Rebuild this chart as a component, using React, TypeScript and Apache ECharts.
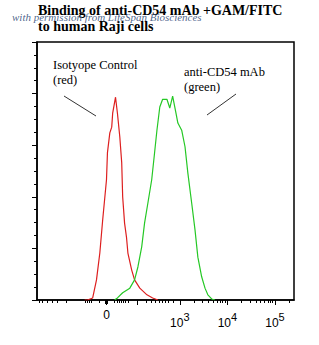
import React, { useEffect, useRef } from "react";
import * as echarts from "echarts";

// x values are in display (biexponential) decade units; y in relative count units
const redX = [1.0, 1.06, 1.17, 1.25, 1.32, 1.38, 1.46, 1.48, 1.53, 1.57, 1.59, 1.65, 1.69, 1.74, 1.78, 1.8, 1.84, 1.88, 1.91, 1.99, 2.05, 2.16, 2.31, 2.43, 2.54];
const redY = [0, 0, 0.04, 0.39, 0.91, 1.55, 2.33, 2.85, 3.24, 3.35, 3.62, 3.93, 3.62, 3.16, 2.66, 2.0, 1.49, 1.22, 0.91, 0.58, 0.39, 0.23, 0.1, 0.04, 0];
const greenX = [1.63, 1.69, 1.8, 1.95, 2.05, 2.12, 2.2, 2.26, 2.33, 2.41, 2.47, 2.52, 2.58, 2.64, 2.73, 2.79, 2.85, 2.92, 2.96, 3.04, 3.11, 3.17, 3.25, 3.32, 3.38, 3.46, 3.53, 3.59, 3.67, 3.74];
const greenY = [0, 0.04, 0.14, 0.23, 0.39, 0.64, 1.03, 1.49, 1.88, 2.33, 2.85, 3.29, 3.74, 3.89, 3.89, 3.72, 3.95, 3.62, 3.43, 3.29, 2.97, 2.46, 1.88, 1.36, 0.83, 0.45, 0.23, 0.1, 0.02, 0];

const xLabelPos = [1.46, 3, 4, 5];
const xLabelExp = ["", "3", "4", "5"];
const xMajorTicks = [1.46, 2.1, 3, 4, 5];
const xMinorTicks = [0.05, 0.12, 0.22, 0.33, 0.43, 0.61, 1.02, 1.05, 1.09, 1.14, 1.31,
  1.63, 1.68, 1.72, 1.76, 1.81, 1.86, 1.91,
  2.3, 2.4, 2.49, 2.56, 2.63, 2.69, 2.75, 2.86,
  3.3, 3.48, 3.6, 3.7, 3.78, 3.85, 3.9, 3.95,
  4.3, 4.48, 4.6, 4.7, 4.78, 4.85, 4.9, 4.95, 5.3];
const zeroMarker = [1.46];

const titleLines = ["Binding of anti-CD54 mAb +GAM/FITC", "to human Raji cells"];
const watermark = "with permission from LifeSpan Biosciences";
const redLabel = ["Isotyope Control", "(red)"];
const greenLabel = ["anti-CD54 mAb", "(green)"];

export default function App() {
  const ref = useRef<HTMLDivElement>(null);
  useEffect(() => {
    if (!ref.current) return;
    const chart = echarts.init(ref.current, null, { renderer: "svg" });
    const XMIN = 0, XMAX = 5.4;
    const baseAxis = {
      type: "value" as const,
      min: XMIN,
      max: XMAX,
      position: "bottom" as const,
      splitLine: { show: false },
      axisLine: { show: false },
    };
    const serif = "'Liberation Serif', 'Times New Roman', serif";
    chart.setOption({
      animation: false,
      backgroundColor: "#fff",
      grid: { left: 37, right: 25, top: 42, bottom: 45, show: true, borderColor: "#000", borderWidth: 1.5, containLabel: false },
      xAxis: [
        {
          ...baseAxis,
          axisLine: { show: true, onZero: false, lineStyle: { color: "#000", width: 1.5 } },
          axisTick: { show: true, inside: false, length: 5, customValues: xMajorTicks, lineStyle: { color: "#000" } },
          axisLabel: {
            show: true,
            customValues: xLabelPos,
            margin: 9,
            formatter: (v: number) => {
              const i = xLabelPos.findIndex((p) => Math.abs(p - v) < 1e-6);
              if (i < 0) return "";
              if (xLabelExp[i] === "") return "{z|0}";
              return "{b|10}{s|" + xLabelExp[i] + "}";
            },
            rich: {
              z: { fontSize: 12, fontFamily: "'Liberation Sans', Arial, sans-serif", color: "#000", padding: [0, 0, 4, 0] },
              b: { fontSize: 12, fontFamily: "'Liberation Sans', Arial, sans-serif", color: "#000", padding: [8, 0, 0, 0] },
              s: { fontSize: 11, fontFamily: "'Liberation Sans', Arial, sans-serif", color: "#000", padding: [0, 0, 4, 0] },
            },
          },
        },
        {
          ...baseAxis,
          axisTick: { show: true, inside: false, length: 3, customValues: xMinorTicks, lineStyle: { color: "#000" } },
          axisLabel: { show: false },
        },
        {
          ...baseAxis,
          axisTick: { show: true, inside: false, length: 4, customValues: zeroMarker, lineStyle: { color: "#000", width: 3 } },
          axisLabel: { show: false },
        },
      ],
      yAxis: {
        type: "value",
        min: 0,
        max: 5,
        interval: 1,
        axisLine: { show: true, lineStyle: { color: "#000", width: 1.5 } },
        axisTick: { show: true, inside: false, length: 5, lineStyle: { color: "#000" } },
        minorTick: { show: true, splitNumber: 4, length: 3, lineStyle: { color: "#000" } },
        axisLabel: { show: false },
        splitLine: { show: false },
      },
      series: [
        {
          type: "line",
          data: redX.map((x, i) => [x, redY[i]]),
          showSymbol: false,
          lineStyle: { color: "#dd1f1f", width: 1.2 },
          z: 3,
        },
        {
          type: "line",
          data: greenX.map((x, i) => [x, greenY[i]]),
          showSymbol: false,
          lineStyle: { color: "#25c825", width: 1.2 },
          z: 3,
        },
      ],
      graphic: [
        { type: "text", left: 38, top: 3, style: { text: titleLines[0], font: "bold 14px " + serif, fill: "#000" } },
        { type: "text", left: 38, top: 19, style: { text: titleLines[1], font: "bold 14px " + serif, fill: "#000" } },
        { type: "text", left: 12, top: 11, style: { text: watermark, font: "italic 11px " + serif, fill: "#2e4a78", opacity: 0.85 } },
        { type: "text", left: 53, top: 58, style: { text: redLabel[0], font: "12.5px " + serif, fill: "#000" } },
        { type: "text", left: 53, top: 73, style: { text: redLabel[1], font: "12.5px " + serif, fill: "#000" } },
        { type: "text", left: 184, top: 65, style: { text: greenLabel[0], font: "12.5px " + serif, fill: "#000" } },
        { type: "text", left: 184, top: 80, style: { text: greenLabel[1], font: "12.5px " + serif, fill: "#000" } },
        { type: "line", shape: { x1: 64, y1: 96, x2: 96, y2: 116 }, style: { stroke: "#333", lineWidth: 1 } },
        { type: "line", shape: { x1: 207, y1: 115, x2: 236, y2: 94 }, style: { stroke: "#333", lineWidth: 1 } },
      ],
    });
    return () => chart.dispose();
  }, []);
  return <div ref={ref} style={{ position: "fixed", left: 0, top: 0, width: 319, height: 345 }} />;
}
